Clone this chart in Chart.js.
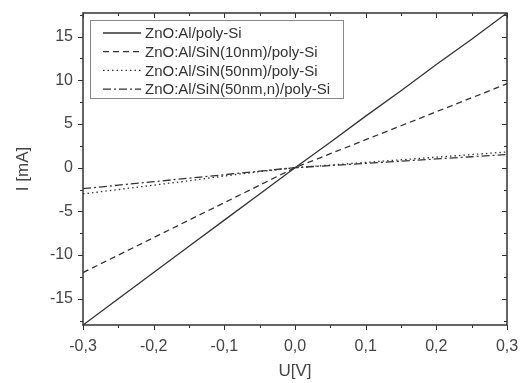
<!DOCTYPE html>
<html>
<head>
<meta charset="utf-8">
<script src="https://cdn.jsdelivr.net/npm/chart.js@4"></script>
<style>
  html, body { margin: 0; padding: 0; background: #fff; }
  #wrap { width: 523px; height: 383px; }
</style>
</head>
<body>
<div id="wrap"><canvas id="ivChart" width="523" height="383"></canvas></div>
<script>
const voltages = [-0.3, -0.25, -0.2, -0.15, -0.1, -0.05, 0, 0.05, 0.1, 0.15, 0.2, 0.25, 0.3];
const polySi = [-18.0, -15.0, -12.0, -9.0, -6.0, -3.0, 0.0, 2.9, 5.9, 8.8, 11.8, 14.7, 17.7];
const sin10 = [-12.0, -10.0, -8.0, -6.0, -4.0, -2.0, 0.0, 1.6, 3.2, 4.8, 6.4, 8.0, 9.6];
const sin50 = [-3.0, -2.5, -2.0, -1.5, -0.95, -0.45, 0.0, 0.3, 0.6, 0.9, 1.2, 1.5, 1.8];
const sin50n = [-2.4, -2.0, -1.6, -1.2, -0.8, -0.4, 0.0, 0.25, 0.5, 0.75, 1.0, 1.25, 1.5];
const seriesNames = ['ZnO:Al/poly-Si', 'ZnO:Al/SiN(10nm)/poly-Si', 'ZnO:Al/SiN(50nm)/poly-Si', 'ZnO:Al/SiN(50nm,n)/poly-Si'];
const xTicks = [-0.3, -0.2, -0.1, 0.0, 0.1, 0.2, 0.3];
const yTicks = [-15, -10, -5, 0, 5, 10, 15];

const ink = '#333';
const fontFam = '"Liberation Sans", Arial, sans-serif';
const pts = vals => voltages.map((v, i) => ({ x: v, y: vals[i] }));
const dashes = [[], [6, 4], [1.5, 3], [8, 3, 2, 3]];

const frame = {
    id: 'frame',
    afterDatasetsDraw(chart) {
        const { ctx, chartArea: a, scales: { x, y } } = chart;
        ctx.save();
        ctx.strokeStyle = ink;
        ctx.lineWidth = 1.5;
        ctx.strokeRect(a.left, a.top, a.right - a.left, a.bottom - a.top);
        ctx.lineWidth = 1;
        ctx.beginPath();
        for (let v = -0.3; v <= 0.3001; v += 0.05) {
            const px = Math.round(x.getPixelForValue(v)) + 0.5;
            const major = Math.abs(Math.round(v * 10) - v * 10) < 1e-6;
            const len = major ? 5 : 3;
            ctx.moveTo(px, a.bottom); ctx.lineTo(px, a.bottom + len);
            ctx.moveTo(px, a.top); ctx.lineTo(px, a.top + len);
        }
        for (let v = -17.5; v <= 17.5; v += 2.5) {
            const py = Math.round(y.getPixelForValue(v)) + 0.5;
            const major = v % 5 === 0;
            const len = major ? 5 : 3;
            ctx.moveTo(a.left, py); ctx.lineTo(a.left - len, py);
            ctx.moveTo(a.right, py); ctx.lineTo(a.right - len, py);
        }
        ctx.stroke();

        // legend
        const lx = 90, ly = 20, lw = 253, lh = 78;
        ctx.lineWidth = 1;
        ctx.strokeStyle = '#888';
        ctx.strokeRect(lx + 0.5, ly + 0.5, lw, lh);
        ctx.font = '15px ' + fontFam;
        ctx.textBaseline = 'middle';
        ctx.fillStyle = ink;
        chart.data.datasets.forEach((ds, i) => {
            const ry = ly + 13 + i * 18.7;
            ctx.strokeStyle = ink;
            ctx.lineWidth = 1.3;
            ctx.setLineDash(ds.borderDash || []);
            ctx.beginPath();
            ctx.moveTo(103, ry); ctx.lineTo(141, ry);
            ctx.stroke();
            ctx.setLineDash([]);
            ctx.fillText(ds.label, 145, ry + 1);
        });
        ctx.restore();
    }
};

new Chart(document.getElementById('ivChart').getContext('2d'), {
    type: 'scatter',
    data: {
        datasets: [polySi, sin10, sin50, sin50n].map((vals, i) => ({
            label: seriesNames[i],
            data: pts(vals),
            showLine: true,
            borderColor: ink,
            borderWidth: 1.3,
            borderDash: dashes[i],
            pointRadius: 0,
            fill: false
        }))
    },
    options: {
        responsive: false,
        animation: false,
        layout: { padding: { top: 13, right: 16, left: 0, bottom: 0 } },
        plugins: { legend: { display: false }, tooltip: { enabled: false } },
        scales: {
            x: {
                type: 'linear', min: -0.3, max: 0.3,
                afterBuildTicks: s => { s.ticks = xTicks.map(v => ({ value: v })); },
                afterFit: s => { s.height = 58; s.paddingLeft = 0; s.paddingRight = 0; },
                grid: { display: false, drawTicks: false },
                border: { display: false },
                ticks: {
                    padding: 12,
                    color: '#444',
                    font: { family: fontFam, size: 16 },
                    callback: v => v.toFixed(1).replace('.', ',')
                },
                title: {
                    display: true, text: 'U[V]', color: '#444', padding: { top: 0, bottom: 1 },
                    font: { family: fontFam, size: 17 }
                }
            },
            y: {
                type: 'linear', min: -18, max: 17.7,
                afterBuildTicks: s => { s.ticks = yTicks.map(v => ({ value: v })); },
                afterFit: s => { s.width = 83; s.paddingTop = 0; s.paddingBottom = 0; },
                grid: { display: false, drawTicks: false },
                border: { display: false },
                ticks: {
                    padding: 10,
                    color: '#444',
                    font: { family: fontFam, size: 16 }
                },
                title: {
                    display: true, text: 'I [mA]', color: '#444', padding: { top: 13, bottom: 0 },
                    font: { family: fontFam, size: 17 }
                }
            }
        }
    },
    plugins: [frame]
});
</script>
</body>
</html>
